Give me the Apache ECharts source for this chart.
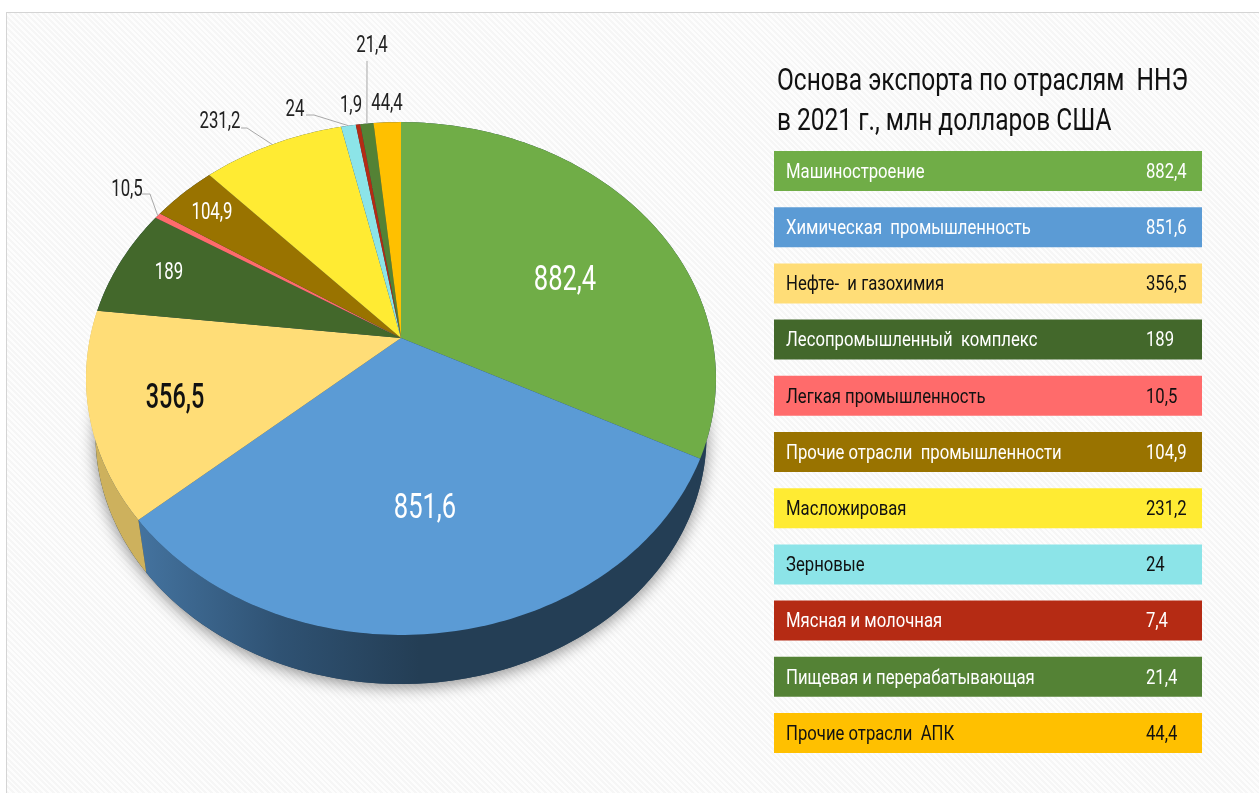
<!DOCTYPE html>
<html>
<head>
<meta charset="utf-8">
<title>Основа экспорта по отраслям ННЭ</title>
<script src="https://cdn.jsdelivr.net/npm/echarts@6/dist/echarts.min.js"></script>
<style>
  html, body { margin: 0; height: 100%; background: #fff; overflow: hidden; }
  #frame {
    position: absolute; left: 6px; top: 12px; right: 0; bottom: 0;
    border-left: 1px solid #d4d4d4; border-top: 1px solid #d4d4d4;
    background: repeating-linear-gradient(45deg, #f6f6f6 0 2px, #fdfdfd 2px 4px);
  }
  #chart { position: absolute; left: 0; top: 0; width: 1259px; height: 793px; }
</style>
</head>
<body>
<div id="frame"></div>
<div id="chart"></div>
<script>
var categories = ['Машиностроение', 'Химическая  промышленность', 'Нефте-  и газохимия', 'Лесопромышленный  комплекс',
  'Легкая промышленность', 'Прочие отрасли  промышленности', 'Масложировая', 'Зерновые',
  'Мясная и молочная', 'Пищевая и перерабатывающая', 'Прочие отрасли  АПК'];
var values = [882.4, 851.6, 356.5, 189, 10.5, 104.9, 231.2, 24, 7.4, 21.4, 44.4];
var legendValues = ['882,4', '851,6', '356,5', '189', '10,5', '104,9', '231,2', '24', '7,4', '21,4', '44,4'];
// на самой диаграмме у мясной подпись другая, чем в таблице
var sliceLabels = ['882,4', '851,6', '356,5', '189', '10,5', '104,9', '231,2', '24', '1,9', '21,4', '44,4'];
var titleLines = ['Основа экспорта по отраслям  ННЭ', 'в 2021 г., млн долларов США'];

var colors = ['#70ad47', '#5b9bd5', '#ffdd77', '#43682b', '#ff6b6b', '#997300', '#ffeb33', '#8ce4e8', '#b52b14', '#548235', '#ffc000'];
var legendTextColors = ['#fff', '#fff', '#111', '#fff', '#111', '#fff', '#111', '#111', '#fff', '#fff', '#111'];
var blueWall = new echarts.graphic.LinearGradient(0, 0, 1, 0, [
  { offset: 0, color: '#44739f' }, { offset: 0.25, color: '#2f5273' }, { offset: 0.5, color: '#243e55' }, { offset: 1, color: '#243e55' }
]);
var wallColors = ['#243e55', blueWall, '#cdb15d', '#243e55', '#243e55', '#243e55', '#243e55', '#243e55', '#243e55', '#243e55', '#243e55'];

// подписи на круге: [x, y, размер, цвет, сжатие, начало выноски]
var labelLayout = [
  [565, 278, 35, '#fff', 0.73],
  [425, 506, 35, '#fff', 0.73],
  [175, 396, 35, '#111', 0.67],
  [169, 271, 24, '#fff', 0.7],
  [127, 188, 24, '#222', 0.7, [[142, 194], [150, 194]]],
  [212, 211, 24, '#fff', 0.7],
  [220, 120, 24, '#222', 0.7, [[241, 128], [247, 128]]],
  [295, 108, 24, '#222', 0.7, [[306, 115], [314, 115]]],
  [351, 104, 24, '#222', 0.7],
  [372, 44, 24, '#222', 0.7, [[367, 61], [367, 62]]],
  [387, 102, 24, '#222', 0.7]
];

// шрифт узкий в оригинале, поэтому Roboto сжимаем по ширине
var fontName = 'Roboto, sans-serif';
var narrowLegend = 0.795;
var narrowTitle = 0.79;
var total = values.reduce(function (a, b) { return a + b; }, 0);

// наклон круга: проекция окружности с перспективой
var tilt = 0.158;
var wallScale = 0.97;
var wallDrop = 0.232;

function project(deg, scale, drop) {
  var a = deg * Math.PI / 180;
  var w = 1 + tilt * Math.cos(a);
  return [scale * Math.sin(a) / w, scale * Math.cos(a) / w - drop];
}

function arc(from, to, scale, drop, api) {
  var pts = [];
  var n = Math.max(2, Math.ceil(to - from));
  for (var i = 0; i <= n; i++) {
    pts.push(api.coord(project(from + (to - from) * i / n, scale, drop)));
  }
  return pts;
}

function sliceAngles(idx) {
  var sum = 0;
  for (var i = 0; i < idx; i++) sum += values[i];
  return [sum / total * 360, (sum + values[idx]) / total * 360];
}

function narrowText(x, y, text, size, fill, squeeze, align, weight) {
  return {
    type: 'text',
    x: x,
    y: y,
    scaleX: squeeze,
    style: {
      x: 0, y: 0, text: text, fill: fill,
      font: (weight || 'normal') + ' ' + size + 'px ' + fontName,
      align: align, verticalAlign: 'middle'
    }
  };
}

function renderBase(params, api) {
  return {
    type: 'polygon',
    shape: { points: arc(0, 360, wallScale, wallDrop, api) },
    style: { fill: '#243e55', shadowBlur: 16, shadowColor: 'rgba(0,0,0,0.45)', shadowOffsetY: 3, shadowOffsetX: 0 }
  };
}

function renderWall(params, api) {
  var ang = sliceAngles(params.dataIndex);
  var top = arc(ang[0], ang[1], 1, 0, api);
  var bottom = arc(ang[0], ang[1], wallScale, wallDrop, api).reverse();
  return {
    type: 'polygon',
    shape: { points: top.concat(bottom) },
    style: { fill: wallColors[params.dataIndex] }
  };
}

function renderSlice(params, api) {
  var ang = sliceAngles(params.dataIndex);
  var pts = arc(ang[0], ang[1], 1, 0, api);
  pts.unshift(api.coord(project(0, 0, 0)));
  return {
    type: 'polygon',
    shape: { points: pts },
    style: { fill: colors[params.dataIndex] }
  };
}

function renderSliceLabel(params, api) {
  var i = params.dataIndex;
  var l = labelLayout[i];
  var children = [];
  if (l[5]) {
    var ang = sliceAngles(i);
    var rim = api.coord(project((ang[0] + ang[1]) / 2, 1, 0));
    children.push({
      type: 'polyline',
      shape: { points: [l[5][0], l[5][1], rim] },
      style: { fill: 'none', stroke: '#a8a8a8', lineWidth: 1 }
    });
  }
  children.push(narrowText(l[0], l[1] + l[2] * 0.08, sliceLabels[i], l[2], l[3], l[4], 'center', i === 2 ? '500' : 'normal'));
  return { type: 'group', children: children };
}

function renderLegendRow(params, api) {
  var i = params.dataIndex;
  var left = api.coord([0, i]);
  var right = api.coord([1, i]);
  var valueX = api.coord([0.869, i])[0];
  var h = 40;
  return {
    type: 'group',
    children: [
      {
        type: 'rect',
        shape: { x: left[0], y: left[1] - h / 2, width: right[0] - left[0], height: h },
        style: { fill: colors[i] }
      },
      narrowText(left[0] + 12, left[1] + 1.5, categories[i], 21, legendTextColors[i], narrowLegend, 'left'),
      narrowText(valueX, left[1] + 1.5, legendValues[i], 21, legendTextColors[i], narrowLegend, 'left')
    ]
  };
}

var myChart = echarts.init(document.getElementById('chart'));
var pieAxes = { xAxisIndex: 0, yAxisIndex: 0, coordinateSystem: 'cartesian2d', silent: true };

function pieSeries(render, data, z) {
  return Object.assign({ type: 'custom', renderItem: render, data: data, z: z }, pieAxes);
}

var sliceData = values.map(function (v, i) { return [i, v]; });

myChart.setOption({
  animation: false,
  tooltip: { show: false },
  graphic: titleLines.map(function (line, i) {
    return narrowText(777, 82 + i * 40, line, 31, '#111', narrowTitle, 'left');
  }),
  grid: [
    { left: 90, top: 88, width: 622, height: 500 },
    { left: 774, top: 142.9, width: 428, height: 618.2 }
  ],
  xAxis: [
    { type: 'value', min: -1, max: 1, show: false },
    { type: 'value', min: 0, max: 1, show: false, gridIndex: 1 }
  ],
  yAxis: [
    { type: 'value', min: -1, max: 1, show: false },
    { type: 'category', data: categories, inverse: true, show: false, gridIndex: 1 }
  ],
  series: [
    pieSeries(renderBase, [[0, total]], 1),
    pieSeries(renderWall, sliceData, 2),
    pieSeries(renderSlice, sliceData, 3),
    pieSeries(renderSliceLabel, sliceData, 4),
    {
      type: 'custom',
      coordinateSystem: 'cartesian2d',
      xAxisIndex: 1,
      yAxisIndex: 1,
      silent: true,
      renderItem: renderLegendRow,
      data: categories.map(function (c, i) { return [1, i]; }),
      z: 5
    }
  ]
});
</script>
</body>
</html>
